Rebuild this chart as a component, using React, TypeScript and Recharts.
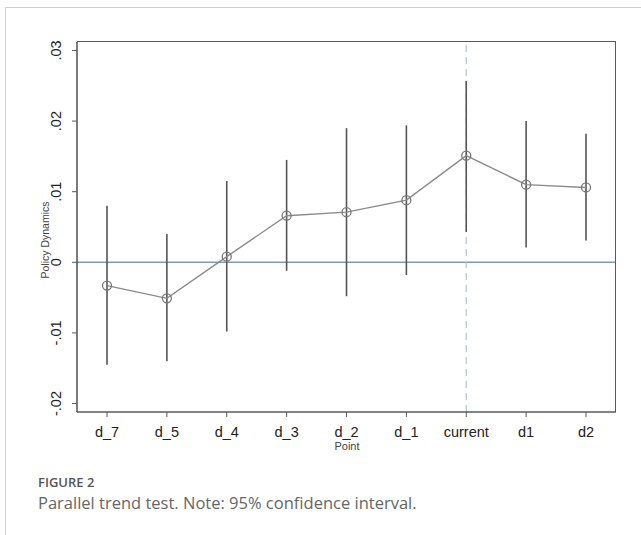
import {
  ComposedChart,
  Line,
  ErrorBar,
  XAxis,
  YAxis,
  ReferenceLine,
} from "recharts";

const categories = ["d_7", "d_5", "d_4", "d_3", "d_2", "d_1", "current", "d1", "d2"];
const coef = [-0.0033, -0.0051, 0.0008, 0.0066, 0.0071, 0.0088, 0.0151, 0.011, 0.0106];
const lower = [-0.0145, -0.014, -0.0098, -0.0012, -0.0048, -0.0018, 0.0043, 0.0021, 0.0031];
const upper = [0.008, 0.004, 0.0115, 0.0145, 0.019, 0.0194, 0.0257, 0.02, 0.0182];
const yTicks = [-0.02, -0.01, 0, 0.01, 0.02, 0.03];

// ErrorBar wants [down, up] distances from the point
const data = categories.map((name, i) => ({
  name,
  coef: coef[i],
  ci: [coef[i] - lower[i], upper[i] - coef[i]],
}));

const axisFont = "'Liberation Sans', Arial, sans-serif";
const frame = "#5a5a5a";

// plot box, in page pixels
const plot = { left: 77, top: 42, right: 616, bottom: 412 };

// Stata style: ".03", "-.01", "0"
function fmt(v: number) {
  if (v === 0) return "0";
  const s = Math.abs(v).toFixed(2).replace(/^0/, "");
  return (v < 0 ? "-" : "") + s;
}

function YTick({ x, y, payload }: any) {
  const tx = x - 9;
  return (
    <text
      x={tx}
      y={y}
      transform={`rotate(-90, ${tx}, ${y})`}
      textAnchor="middle"
      fontSize={14.5}
      fontFamily={axisFont}
      fill="#222"
    >
      {fmt(payload.value)}
    </text>
  );
}

export default function App() {
  return (
    <div
      style={{
        position: "absolute",
        left: 0,
        top: 0,
        width: 641,
        height: 535,
        background: "#fff",
        overflow: "hidden",
      }}
    >
      {/* figure box border (top + left only visible) */}
      <div
        style={{
          position: "absolute",
          left: 5,
          top: 7,
          width: 660,
          height: 560,
          borderTop: "1px solid #cfcfcf",
          borderLeft: "1px solid #cfcfcf",
        }}
      />
      <div style={{ position: "absolute", left: 0, top: 0 }}>
        <ComposedChart
          width={641}
          height={535}
          data={data}
          margin={{ top: plot.top, right: 641 - plot.right, bottom: 83, left: 7 }}
        >
          <XAxis
            dataKey="name"
            padding={{ left: 30, right: 30 }}
            height={40}
            tickSize={5}
            tickMargin={10}
            axisLine={{ stroke: frame, strokeWidth: 1.6 }}
            tickLine={{ stroke: frame }}
            tick={{ fontSize: 14.5, fontFamily: axisFont, fill: "#222" }}
            interval={0}
          />
          <YAxis
            width={70}
            domain={[-0.0212, 0.0312]}
            ticks={yTicks}
            allowDataOverflow
            tickSize={5}
            tickMargin={2}
            axisLine={{ stroke: frame, strokeWidth: 1.6 }}
            tickLine={{ stroke: frame }}
            tick={<YTick />}
          />
          <ReferenceLine y={0} stroke="#7f9db0" strokeWidth={1.5} />
          <ReferenceLine
            x="current"
            stroke="#b3c6d2"
            strokeWidth={1.2}
            strokeDasharray="7 5"
          />
          <Line
            dataKey="coef"
            stroke="#8a8a8a"
            strokeWidth={1.4}
            isAnimationActive={false}
            dot={{ r: 4.5, fill: "none", stroke: "#777", strokeWidth: 1.3 }}
            activeDot={false}
          >
            <ErrorBar
              dataKey="ci"
              width={0}
              stroke="#555"
              strokeWidth={1.6}
              direction="y"
            />
          </Line>
        </ComposedChart>
      </div>

      {/* top and right sides of the plot frame */}
      <div
        style={{
          position: "absolute",
          left: plot.left,
          top: plot.top - 1,
          width: plot.right - plot.left - 1,
          height: plot.bottom - plot.top,
          borderTop: `1.6px solid ${frame}`,
          borderRight: `1.6px solid ${frame}`,
          pointerEvents: "none",
        }}
      />

      {/* axis titles */}
      <div
        style={{
          position: "absolute",
          left: 45 - 60,
          top: 240 - 7,
          width: 120,
          height: 14,
          lineHeight: "14px",
          textAlign: "center",
          transform: "rotate(-90deg)",
          fontFamily: axisFont,
          fontSize: 10.5,
          color: "#444",
        }}
      >
        Policy Dynamics
      </div>
      <div
        style={{
          position: "absolute",
          left: 347 - 40,
          top: 440,
          width: 80,
          textAlign: "center",
          fontFamily: axisFont,
          fontSize: 11,
          lineHeight: "13px",
          color: "#444",
        }}
      >
        Point
      </div>

      {/* caption */}
      <div
        style={{
          position: "absolute",
          left: 38,
          top: 475,
          fontFamily: "'Open Sans', sans-serif",
          fontSize: 13,
          fontWeight: 600,
          color: "#555",
          lineHeight: "15px",
        }}
      >
        FIGURE 2
      </div>
      <div
        style={{
          position: "absolute",
          left: 38,
          top: 494,
          fontFamily: "'Open Sans', sans-serif",
          fontSize: 16.5,
          color: "#666",
          lineHeight: "18px",
        }}
      >
        Parallel trend test. Note: 95% confidence interval.
      </div>
    </div>
  );
}
